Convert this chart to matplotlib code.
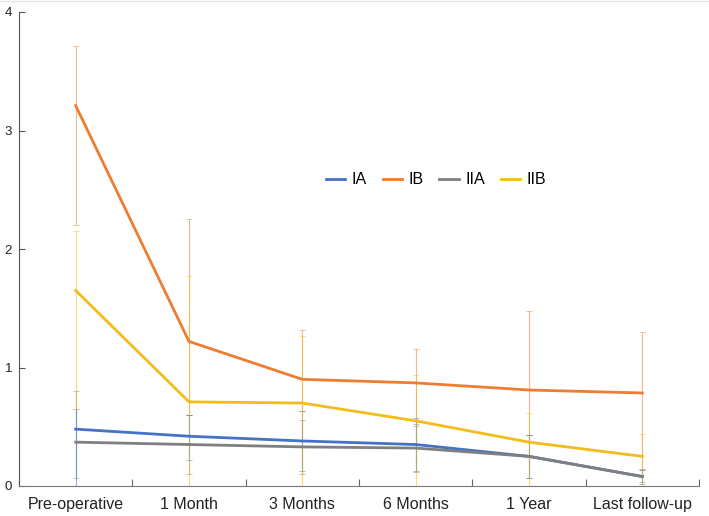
import matplotlib.pyplot as plt
from matplotlib.lines import Line2D
import numpy as np

plt.rcParams['font.family'] = ['Liberation Sans', 'DejaVu Sans']

# data
stages = ["Pre-operative", "1 Month", "3 Months", "6 Months", "1 Year", "Last follow-up"]
groups = ["IA", "IB", "IIA", "IIB"]

ia = [0.48, 0.42, 0.38, 0.35, 0.25, 0.08]
ib = [3.21, 1.22, 0.90, 0.87, 0.81, 0.785]
iia = [0.37, 0.35, 0.33, 0.32, 0.25, 0.08]
iib = [1.65, 0.71, 0.70, 0.55, 0.37, 0.25]

# error bars (below, above) as read from the caps
ia_lo = [0.48, 0.20, 0.25, 0.22, 0.18, 0.06]
ia_hi = [0.17, 0.18, 0.25, 0.22, 0.18, 0.06]
ib_lo = [1.01, 0.62, 0.27, 0.36, 0.38, 0.65]
ib_hi = [0.50, 1.03, 0.42, 0.29, 0.67, 0.515]
iia_lo = [0.30, 0.25, 0.23, 0.20, 0.18, 0.05]
iia_hi = [0.43, 0.25, 0.23, 0.20, 0.18, 0.055]
iib_lo = [1.00, 0.71, 0.70, 0.55, 0.37, 0.25]
iib_hi = [0.50, 1.06, 0.57, 0.39, 0.25, 0.19]

colors = ["#4472C4", "#ED7D31", "#7F7F7F", "#F2BC1A"]

fig = plt.figure(figsize=(7.09, 5.16), dpi=100)
ax = fig.add_axes([19/709, 1 - 486/516, 680/709, 474/516])

x = np.arange(len(stages))
series = {
    "IA": (ia, ia_lo, ia_hi, colors[0]),
    "IB": (ib, ib_lo, ib_hi, colors[1]),
    "IIA": (iia, iia_lo, iia_hi, colors[2]),
    "IIB": (iib, iib_lo, iib_hi, colors[3]),
}

# error bars first (thin, faded), yellow ones end up on top
for g in ["IB", "IIA", "IA", "IIB"]:
    vals, lo, hi, c = series[g]
    ax.errorbar(x, vals, yerr=[lo, hi], fmt="none", ecolor=c, elinewidth=0.8,
                capsize=2, capthick=0.6, alpha=0.55, zorder=2)
for g in groups:
    vals, lo, hi, c = series[g]
    ax.plot(x, vals, color=c, lw=2, label=g, zorder=3)

ax.set_xlim(-0.5, len(stages) - 0.5)
ax.set_ylim(0, 4)
ax.set_yticks([0, 1, 2, 3, 4])

ax.set_xticks(x)
ax.set_xticklabels(stages, fontsize=11.5)
ax.set_xticks(np.arange(-0.5, len(stages)), minor=True)
ax.tick_params(axis="x", which="major", length=0, pad=8, colors="#222222")
ax.tick_params(axis="x", which="minor", length=5, direction="in", color="#666666", width=0.8)
ax.tick_params(axis="y", length=4, direction="in", width=0.8,
               labelsize=9.5, pad=5, colors="#222222")
ax.tick_params(axis="y", color="#555555")

for s in ["top", "right"]:
    ax.spines[s].set_visible(False)
ax.spines["left"].set_color("#555555")
ax.spines["bottom"].set_color("#777777")

handles = [Line2D([0], [0], color=c, lw=2) for c in colors]
fig.legend(handles, groups, loc="center", bbox_to_anchor=(436/709, 1 - 180/516),
           ncol=4, frameon=False, fontsize=11.5, handlelength=1.2, handletextpad=0.4,
           columnspacing=1.0)

# faint frame line at top of image
fig.add_artist(Line2D([0, 1], [0.998, 0.998], color="#E6E6E6", lw=1, transform=fig.transFigure))

fig.savefig("out.png", dpi=100)
